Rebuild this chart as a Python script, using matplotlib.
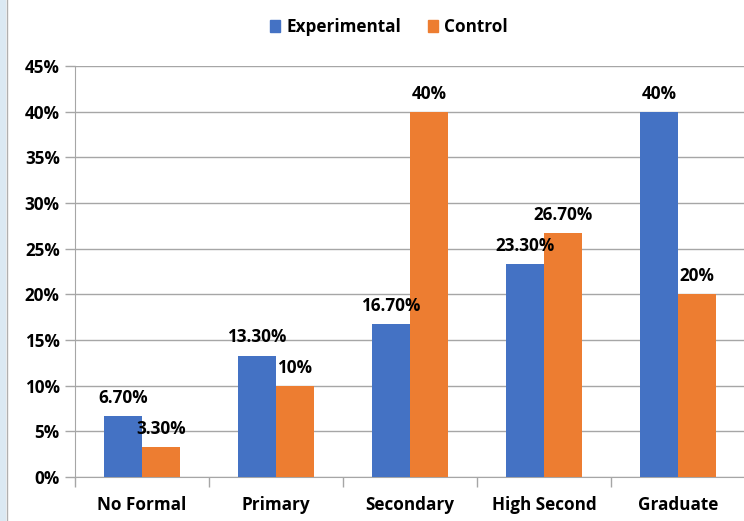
import matplotlib
matplotlib.use("Agg")
import matplotlib.pyplot as plt
from matplotlib.patches import Rectangle
from matplotlib.lines import Line2D
import numpy as np

categories = ["No Formal", "Primary", "Secondary", "High Second", "Graduate"]
experimental = [6.7, 13.3, 16.7, 23.3, 40.0]
control = [3.3, 10.0, 40.0, 26.7, 20.0]
exp_labels = ["6.70%", "13.30%", "16.70%", "23.30%", "40%"]
ctl_labels = ["3.30%", "10%", "40%", "26.70%", "20%"]
yticks = [0, 5, 10, 15, 20, 25, 30, 35, 40, 45]

plt.rcParams['font.family'] = ['Open Sans', 'DejaVu Sans']
plt.rcParams['font.weight'] = 'bold'
FS = 12.3

W, H = 744, 521
fig = plt.figure(figsize=(W/100, H/100), dpi=100)
ax = fig.add_axes([75/W, 1-477/H, (745-75)/W, (477-66)/H])

blue = "#4472C4"
orange = "#ED7D31"
x = np.arange(len(categories))
bw = 0.282
ax.bar(x - bw/2, experimental, bw, color=blue, label="Experimental", zorder=3)
ax.bar(x + bw/2, control, bw, color=orange, label="Control", zorder=3)

for xi, v, t in zip(x, experimental, exp_labels):
    ax.annotate(t, (xi - bw/2, v), xytext=(0, 13), textcoords="offset points",
                ha="center", va="center", fontsize=FS, fontweight="bold", zorder=5)
for xi, v, t in zip(x, control, ctl_labels):
    ax.annotate(t, (xi + bw/2, v), xytext=(0, 13), textcoords="offset points",
                ha="center", va="center", fontsize=FS, fontweight="bold", zorder=5)

ax.set_xlim(-0.5, len(categories) - 0.5)
ax.set_ylim(0, 45)
ax.set_yticks(yticks)
ax.set_yticklabels([f"{t}%" for t in yticks], fontsize=FS, fontweight="bold")
ax.yaxis.grid(True, color="#a6a6a6", linewidth=1.0, zorder=0)
ax.set_axisbelow(True)

ax.set_xticks(x)
ax.set_xticklabels(categories, fontsize=FS, fontweight="bold")
ax.tick_params(axis="x", length=0, pad=14)
ax.set_xticks(np.arange(len(categories) + 1) - 0.5, minor=True)
ax.tick_params(axis="x", which="minor", length=7, color="#a6a6a6", width=1.0)
ax.tick_params(axis="y", length=7, color="#a6a6a6", width=1.0, pad=4)

for s in ["top", "right"]:
    ax.spines[s].set_visible(False)
ax.spines["left"].set_color("#a6a6a6")
ax.spines["bottom"].set_color("#a6a6a6")

leg = fig.legend(handles=[Rectangle((0, 0), 1, 1, color=blue), Rectangle((0, 0), 1, 1, color=orange)],
                 labels=["Experimental", "Control"], loc="center", bbox_to_anchor=(389/W, 1-27/H),
                 ncol=2, frameon=False, fontsize=FS, handlelength=0.6, handleheight=0.7,
                 handletextpad=0.35, columnspacing=1.6)
for t in leg.get_texts():
    t.set_fontweight("bold")

fig.patches.append(Rectangle((0, 0), 5/W, 1, transform=fig.transFigure, color="#dbe9f3", zorder=0))
fig.lines.append(Line2D([7/W, 7/W], [0, 1], transform=fig.transFigure, color="#b0b0b0", linewidth=1))

fig.savefig("out.png", dpi=100)
